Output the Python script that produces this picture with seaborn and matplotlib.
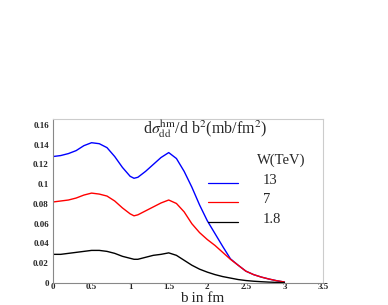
import matplotlib
matplotlib.use('Agg')
import matplotlib.pyplot as plt
from matplotlib.ticker import AutoMinorLocator, MultipleLocator, FormatStrFormatter
import seaborn as sns
import pandas as pd

b = [0.0, 0.1, 0.2, 0.3, 0.4, 0.5, 0.6, 0.7, 0.8, 0.9, 1.0, 1.05, 1.1, 1.2,
     1.3, 1.4, 1.5, 1.6, 1.7, 1.8, 1.9, 2.0, 2.1, 2.2, 2.3, 2.4, 2.5, 2.6,
     2.7, 2.8, 2.9, 3.0]
w13 = [0.128, 0.129, 0.131, 0.134, 0.139, 0.142, 0.141, 0.137, 0.128, 0.117,
       0.108, 0.106, 0.107, 0.113, 0.120, 0.127, 0.132, 0.126, 0.113, 0.097,
       0.079, 0.063, 0.050, 0.037, 0.0245, 0.018, 0.012, 0.0085, 0.006,
       0.004, 0.0023, 0.001]
w7 = [0.082, 0.083, 0.084, 0.086, 0.089, 0.091, 0.090, 0.088, 0.083, 0.076,
      0.070, 0.068, 0.069, 0.073, 0.077, 0.081, 0.084, 0.0805, 0.072, 0.060,
      0.051, 0.044, 0.038, 0.031, 0.024, 0.018, 0.012, 0.0085, 0.006, 0.004,
      0.0023, 0.001]
w18 = [0.029, 0.029, 0.030, 0.031, 0.032, 0.033, 0.033, 0.032, 0.030, 0.027,
       0.025, 0.024, 0.024, 0.026, 0.028, 0.029, 0.0305, 0.028, 0.023, 0.018,
       0.014, 0.011, 0.0085, 0.0065, 0.005, 0.0035, 0.0025, 0.0018, 0.0013,
       0.0009, 0.0006, 0.0004]
energies = ['13', '7', '1.8']
colors = ['#0000ff', '#ff0000', '#000000']

df = pd.DataFrame({'b': b * 3, 'val': w13 + w7 + w18,
                   'W': [e for e in energies for _ in b]})

sns.set_style('white')
plt.rcParams['font.family'] = ['Liberation Serif', 'DejaVu Serif']
plt.rcParams['mathtext.fontset'] = 'stix'

fig = plt.figure(figsize=(3.88, 3.05), dpi=100)
ax = fig.add_axes([53 / 388, 1 - 283 / 305, 270 / 388, 164 / 305])
sns.lineplot(data=df, x='b', y='val', hue='W', palette=dict(zip(energies, colors)),
             linewidth=1.0, legend=False, ax=ax)

ax.set_xlim(0, 3.5)
ax.set_ylim(0, 0.166)
ax.xaxis.set_major_locator(MultipleLocator(0.5))
ax.yaxis.set_major_locator(MultipleLocator(0.02))
ax.xaxis.set_minor_locator(AutoMinorLocator(5))
ax.yaxis.set_minor_locator(AutoMinorLocator(4))
ax.xaxis.set_major_formatter(FormatStrFormatter('%g'))
ax.yaxis.set_major_formatter(FormatStrFormatter('%g'))
ax.tick_params(which='both', direction='in', top=False, right=False,
               labelsize=6.5, color='#888888')
ax.tick_params(axis='y', pad=3)
ax.tick_params(axis='x', pad=0.3)
ax.tick_params(which='major', length=5, width=0.6)
ax.tick_params(which='minor', length=2.5, width=0.5)
for lab in ax.get_xticklabels() + ax.get_yticklabels():
    lab.set_fontweight('bold')
for s in ['left', 'bottom']:
    ax.spines[s].set_color('#888888')
    ax.spines[s].set_linewidth(0.8)
for s in ['top', 'right']:
    ax.spines[s].set_color('#cccccc')
    ax.spines[s].set_linewidth(0.8)

ax.set_xlabel('')
ax.set_ylabel('')
ax.text(0.552, -0.097, 'b in fm', transform=ax.transAxes, ha='center',
        va='center', fontsize=11)

ax.text(0.563, 0.94, r'd$\sigma_{\mathrm{dd}}^{\mathrm{hm}}$/d b$^2$(mb/fm$^2$)',
        transform=ax.transAxes, ha='center', va='center', fontsize=11.5)
ax.text(0.755, 0.746, 'W(TeV)', transform=ax.transAxes, ha='left', va='center',
        fontsize=10.5)
for i, (e, c) in enumerate(zip(energies, colors)):
    y = 0.61 - i * 0.119
    ax.plot([0.575, 0.685], [y, y], color=c, lw=0.9, transform=ax.transAxes)
    ax.text(0.777, y + 0.018, e, transform=ax.transAxes, ha='left', va='center',
            fontsize=10.5)

fig.savefig('out.png', dpi=100)
